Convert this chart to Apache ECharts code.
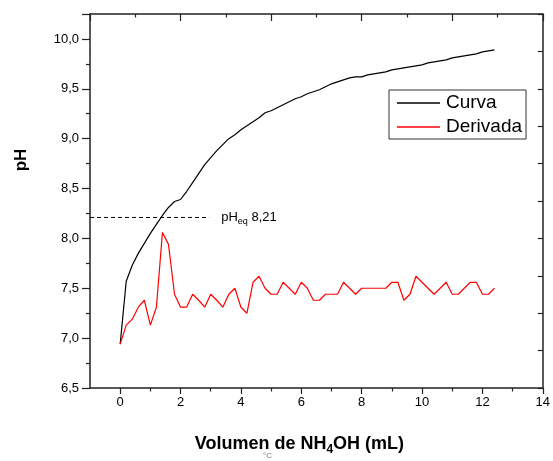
<!DOCTYPE html>
<html><head><meta charset="utf-8">
<script src="https://cdn.jsdelivr.net/npm/echarts@6/dist/echarts.min.js"></script>
<style>html,body{margin:0;padding:0;background:#fff}#c{width:553px;height:461px}</style>
</head><body><div id="c"></div>
<script>
const volumes = [0,0.2,0.4,0.6,0.8,1.0,1.2,1.4,1.6,1.8,2.0,2.2,2.4,2.6,2.8,3.0,3.2,3.4,3.6,3.8,4.0,4.2,4.4,4.6,4.8,5.0,5.2,5.4,5.6,5.8,6.0,6.2,6.4,6.6,6.8,7.0,7.2,7.4,7.6,7.8,8.0,8.2,8.4,8.6,8.8,9.0,9.2,9.4,9.6,9.8,10.0,10.2,10.4,10.6,10.8,11.0,11.2,11.4,11.6,11.8,12.0,12.2,12.4];
const curva = [6.94,7.57,7.73,7.85,7.95,8.05,8.14,8.23,8.31,8.37,8.39,8.47,8.56,8.65,8.74,8.81,8.88,8.94,9.00,9.04,9.09,9.13,9.17,9.21,9.26,9.28,9.31,9.34,9.37,9.40,9.42,9.45,9.47,9.49,9.52,9.55,9.57,9.59,9.61,9.62,9.62,9.64,9.65,9.66,9.67,9.69,9.70,9.71,9.72,9.73,9.74,9.76,9.77,9.78,9.79,9.81,9.82,9.83,9.84,9.85,9.87,9.88,9.89];
const derivada = [6.94,7.13,7.19,7.31,7.38,7.13,7.31,8.06,7.94,7.44,7.31,7.31,7.44,7.38,7.31,7.44,7.38,7.31,7.44,7.50,7.31,7.25,7.56,7.62,7.50,7.44,7.44,7.56,7.50,7.44,7.56,7.50,7.38,7.38,7.44,7.44,7.44,7.56,7.50,7.44,7.50,7.50,7.50,7.50,7.50,7.56,7.56,7.38,7.44,7.62,7.56,7.50,7.44,7.50,7.56,7.44,7.44,7.50,7.56,7.56,7.44,7.44,7.50];
const eqPH = 8.21;
const eqLineX = [-1, 2.95];
const xMajorTicks = [0,2,4,6,8,10,12,14];
const xMinorTicks = [1,3,5,7,9,11,13];

const FONT = '"Liberation Sans", Arial, sans-serif';
const pair = (xs, ys) => xs.map((x, i) => [x, ys[i]]);

const chart = echarts.init(document.getElementById('c'), null, {renderer: 'canvas'});
chart.setOption({
  animation: false,
  backgroundColor: '#fff',
  textStyle: {fontFamily: FONT},
  grid: {left: 90, right: 9, top: 14, bottom: 72, containLabel: false},
  legend: {
    data: [
      {name: 'Curva', icon: 'rect', itemStyle: {color: '#000'}},
      {name: 'Derivada', icon: 'rect', itemStyle: {color: '#ff0000'}}
    ],
    orient: 'vertical', left: 389, top: 90,
    itemWidth: 43, itemHeight: 1.3, itemGap: 4,
    padding: [3, 4, 2, 8],
    borderColor: '#333', borderWidth: 1, backgroundColor: '#fff',
    textStyle: {fontFamily: FONT, fontSize: 19, lineHeight: 20, color: '#000', padding: [0, 0, 0, 1]}
  },
  xAxis: [
    {
      type: 'value', position: 'bottom', min: -1, max: 14,
      splitLine: {show: false},
      axisLine: {onZero: false, lineStyle: {color: '#222', width: 1.5}},
      axisTick: {customValues: xMajorTicks, length: 6, lineStyle: {color: '#222', width: 1.2}},
      axisLabel: {customValues: xMajorTicks, margin: 8, fontSize: 13, color: '#000', fontFamily: FONT},
      name: '{b|Volumen de NH}{s|4}{b|OH (mL)}',
      nameLocation: 'middle', nameGap: 44,
      nameTextStyle: {padding: [0, 34, 0, 0], rich: {
        b: {fontFamily: FONT, fontSize: 18, fontWeight: 'bold', color: '#000'},
        s: {fontFamily: FONT, fontSize: 12, fontWeight: 'bold', color: '#000', verticalAlign: 'bottom', padding: [12, 0, 0, 0]}
      }}
    },
    {
      type: 'value', position: 'bottom', min: -1, max: 14,
      splitLine: {show: false},
      axisLine: {show: false, onZero: false},
      axisTick: {customValues: xMinorTicks, length: 3.5, lineStyle: {color: '#222', width: 1.2}},
      axisLabel: {show: false}
    },
    {
      type: 'value', position: 'top', min: 0, max: 10, interval: 2,
      splitLine: {show: false},
      axisLine: {onZero: false, lineStyle: {color: '#222', width: 1.5}},
      axisTick: {inside: true, length: 7, lineStyle: {color: '#222', width: 1.2}},
      minorTick: {show: true, splitNumber: 2, length: 3.5, lineStyle: {color: '#222', width: 1.2}},
      axisLabel: {show: false}
    }
  ],
  yAxis: [
    {
      type: 'value', position: 'left', min: 6.5, max: 10.25, interval: 0.5,
      splitLine: {show: false},
      axisLine: {onZero: false, lineStyle: {color: '#222', width: 1.5}},
      axisTick: {length: 8, lineStyle: {color: '#222', width: 1.2}},
      minorTick: {show: true, splitNumber: 2, length: 4, lineStyle: {color: '#222', width: 1.2}},
      axisLabel: {margin: 11, fontSize: 13, color: '#000', fontFamily: FONT, showMaxLabel: false,
        formatter: v => (v > 10.01 ? '' : v.toFixed(1).replace('.', ','))},
      name: 'pH', nameLocation: 'middle', nameGap: 60,
      nameTextStyle: {fontFamily: FONT, fontSize: 17, fontWeight: 'bold', color: '#000', padding: [0, 0, 0, 82]}
    },
    {
      type: 'value', position: 'right', min: 0, max: 10, interval: 1,
      splitLine: {show: false},
      axisLine: {onZero: false, lineStyle: {color: '#222', width: 1.5}},
      axisTick: {inside: true, length: 5, lineStyle: {color: '#222', width: 1.2}},
      axisLabel: {show: false}
    }
  ],
  graphic: [
    {type: 'text', left: 263, top: 452, style: {text: '°C', font: '8px ' + FONT, fill: '#777'}}
  ],
  series: [
    {
      name: 'Curva', type: 'line', xAxisIndex: 0, yAxisIndex: 0,
      data: pair(volumes, curva), symbol: 'none', showSymbol: false,
      lineStyle: {color: '#000', width: 1.2}, itemStyle: {color: '#000'}
    },
    {
      name: 'Derivada', type: 'line', xAxisIndex: 0, yAxisIndex: 0,
      data: pair(volumes, derivada), symbol: 'none', showSymbol: false,
      lineStyle: {color: '#ff0000', width: 1.2}, itemStyle: {color: '#ff0000'}
    },
    {
      name: 'eq', type: 'line', xAxisIndex: 0, yAxisIndex: 0,
      data: eqLineX.map(x => [x, eqPH]), symbol: 'none', showSymbol: false,
      lineStyle: {color: '#000', width: 1, type: [4, 3]},
      endLabel: {
        show: true, distance: 12,
        formatter: () => '{a|pH}{s|eq}{a| ' + eqPH.toFixed(2).replace('.', ',') + '}',
        rich: {
          a: {fontFamily: FONT, fontSize: 13, color: '#000'},
          s: {fontFamily: FONT, fontSize: 9, color: '#000', verticalAlign: 'bottom', padding: [8, 0, 0, 0]}
        }
      },
      silent: true
    }
  ]
});
</script>
</body></html>
